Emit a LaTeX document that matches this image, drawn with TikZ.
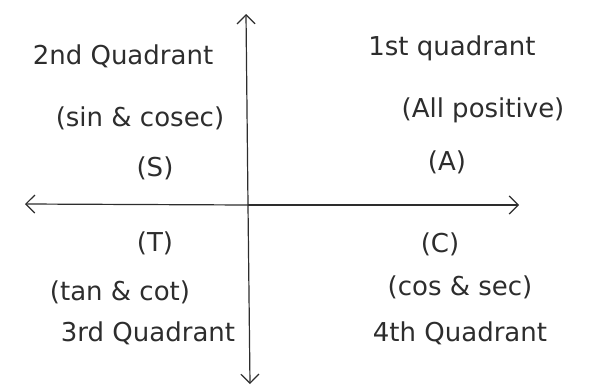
\documentclass[tikz,border=0pt]{standalone}
\usepackage{fontspec}
\setmainfont{DejaVu Sans}
\usetikzlibrary{arrows.meta}
\definecolor{ink}{RGB}{45,45,45}
\begin{document}
\begin{tikzpicture}[x=1pt,y=-1pt,
  axis/.style={draw=ink,line width=1.2pt,-{Straight Barb[length=9pt,width=18pt,line width=1.2pt]}},
  lbl/.style={text=ink,font=\fontsize{26}{30}\selectfont,inner sep=1pt}]
\useasboundingbox (0,0) rectangle (605,391);
\coordinate (o) at (248,205);
\coordinate (top) at (246,14);
\coordinate (bot) at (250,384);
\coordinate (left) at (25,204);
\coordinate (right) at (519,205);
\draw[axis] (o) -- (top);
\draw[axis] (o) -- (bot);
\draw[axis] (o) -- (left);
\draw[axis] (o) -- (right);
\node[lbl] (q2) at (123,56) {2nd Quadrant};
\node[lbl] (q2f) at (140,118) {(sin \& cosec)};
\node[lbl] (q2s) at (155,168) {(S)};
\node[lbl] (q1) at (452,48) {1st quadrant};
\node[lbl] (q1f) at (483,110) {(All positive)};
\node[lbl] (q1s) at (447,162) {(A)};
\node[lbl] (q3s) at (155,243) {(T)};
\node[lbl] (q3f) at (120,292) {(tan \& cot)};
\node[lbl] (q3) at (148,333) {3rd Quadrant};
\node[lbl] (q4s) at (440,244) {(C)};
\node[lbl] (q4f) at (460,287) {(cos \& sec)};
\node[lbl] (q4) at (460,333) {4th Quadrant};
\end{tikzpicture}
\end{document}
